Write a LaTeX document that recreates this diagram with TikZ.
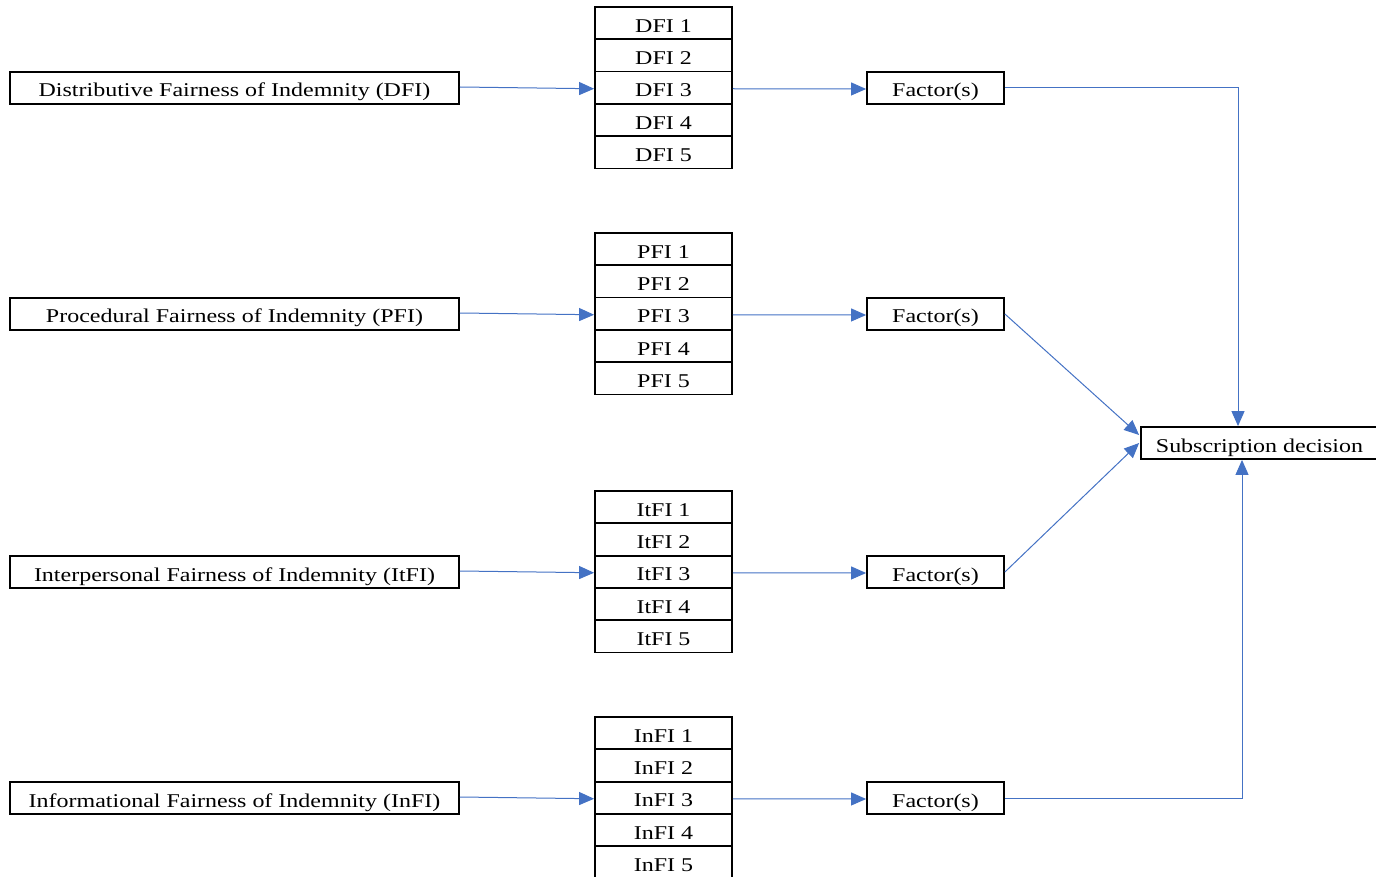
\documentclass[tikz,border=0pt]{standalone}
\usepackage{fontspec}
\setmainfont[FakeStretch=1.23]{Liberation Serif}
\usetikzlibrary{arrows.meta}
\definecolor{arr}{HTML}{4472C4}
\tikzset{
  box/.style={draw=black, line width=1.8pt, minimum height=32pt, inner sep=0pt,
    text height=20pt, text depth=2pt,
    font=\fontsize{19.5}{22}\selectfont, anchor=center},
  src/.style={box, minimum width=449pt},
  item/.style={box, minimum width=137pt, minimum height=32.3pt},
  fac/.style={box, minimum width=137pt},
  con/.style={draw=arr, line width=1pt, -{Triangle[length=15pt,width=13pt]}}
}
\begin{document}
\begin{tikzpicture}[x=1pt,y=-1pt]
\useasboundingbox (0,0) rectangle (1376,877);
\clip (0,0) rectangle (1376,877);

% source boxes
\node[src] (s1) at (234.5,88) {Distributive Fairness of Indemnity (DFI)};
\node[src] (s2) at (234.5,314) {Procedural Fairness of Indemnity (PFI)};
\node[src] (s3) at (234.5,572) {Interpersonal Fairness of Indemnity (ItFI)};
\node[src] (s4) at (234.5,798) {Informational Fairness of Indemnity (InFI)};

% item stacks
\foreach \i in {1,...,5} {
  \node[item] (a\i) at (663.5,{7+(\i-0.5)*32.3}) {DFI \i};
  \node[item] (b\i) at (663.5,{233+(\i-0.5)*32.3}) {PFI \i};
  \node[item] (c\i) at (663.5,{491+(\i-0.5)*32.3}) {ItFI \i};
  \node[item] (e\i) at (663.5,{717+(\i-0.5)*32.3}) {InFI \i};
}

% factor boxes
\node[fac] (f1) at (935.5,88) {Factor(s)};
\node[fac] (f2) at (935.5,314) {Factor(s)};
\node[fac] (f3) at (935.5,572) {Factor(s)};
\node[fac] (f4) at (935.5,798) {Factor(s)};

% outcome
\node[box, minimum width=237pt] (sub) at (1259.5,443) {Subscription decision};

% connectors
\draw[con] ([yshift=1pt]s1.east) -- ([yshift=-1pt]a3.west);
\draw[con] ([yshift=1pt]s2.east) -- ([yshift=-1pt]b3.west);
\draw[con] ([yshift=1pt]s3.east) -- ([yshift=-1pt]c3.west);
\draw[con] ([yshift=1pt]s4.east) -- ([yshift=-1pt]e3.west);

\draw[con] ([yshift=-1pt]a3.east) -- ([yshift=-1pt]f1.west);
\draw[con] ([yshift=-1pt]b3.east) -- ([yshift=-1pt]f2.west);
\draw[con] ([yshift=-1pt]c3.east) -- ([yshift=-1pt]f3.west);
\draw[con] ([yshift=-1pt]e3.east) -- ([yshift=-1pt]f4.west);

\draw[con] (f1.east) -| ([xshift=-21.5pt]sub.north);
\draw[con] (f2.east) -- ([xshift=-1pt,yshift=8pt]sub.west);
\draw[con] (f3.east) -- ([xshift=-1pt]sub.west);
\draw[con] (f4.east) -| ([xshift=-17.5pt]sub.south);
\end{tikzpicture}
\end{document}
